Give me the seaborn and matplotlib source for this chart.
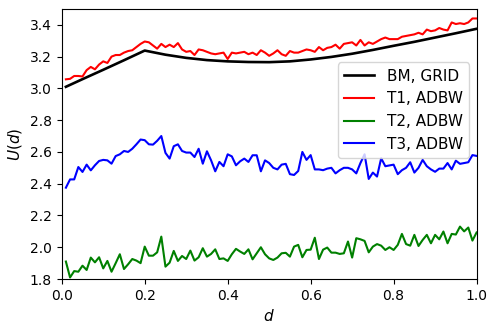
import numpy as np
import pandas as pd
import matplotlib
matplotlib.use("Agg")
import matplotlib.pyplot as plt
import seaborn as sns

# ---------------- data ----------------
d_bm = [0.01, 0.05, 0.10, 0.15, 0.20, 0.25, 0.30, 0.35, 0.40, 0.45, 0.50,
        0.55, 0.60, 0.65, 0.70, 0.75, 0.80, 0.85, 0.90, 0.95, 1.00]
u_bm = [3.010, 3.058, 3.117, 3.177, 3.238, 3.212, 3.192, 3.178, 3.170, 3.166, 3.165,
        3.170, 3.182, 3.198, 3.218, 3.242, 3.268, 3.293, 3.320, 3.347, 3.375]

d_t = [round(0.01 * i, 2) for i in range(1, 101)]

u_t1 = [3.057, 3.060, 3.078, 3.078, 3.075, 3.115, 3.135, 3.120, 3.150, 3.170,
        3.160, 3.200, 3.210, 3.210, 3.225, 3.235, 3.240, 3.260, 3.280, 3.295,
        3.290, 3.270, 3.250, 3.280, 3.260, 3.275, 3.260, 3.285, 3.245, 3.230,
        3.235, 3.210, 3.245, 3.240, 3.230, 3.220, 3.215, 3.220, 3.225, 3.185,
        3.225, 3.220, 3.225, 3.230, 3.215, 3.225, 3.210, 3.240, 3.225, 3.205,
        3.220, 3.240, 3.215, 3.205, 3.235, 3.225, 3.225, 3.235, 3.245, 3.240,
        3.230, 3.260, 3.240, 3.255, 3.260, 3.275, 3.250, 3.280, 3.285, 3.290,
        3.270, 3.305, 3.270, 3.290, 3.280, 3.295, 3.310, 3.320, 3.310, 3.310,
        3.310, 3.325, 3.330, 3.335, 3.340, 3.350, 3.340, 3.370, 3.360, 3.365,
        3.380, 3.370, 3.365, 3.415, 3.405, 3.410, 3.405, 3.415, 3.440, 3.440]

u_t2 = [1.910, 1.810, 1.850, 1.846, 1.884, 1.857, 1.935, 1.905, 1.937, 1.867,
        1.914, 1.846, 1.900, 1.956, 1.863, 1.893, 1.926, 1.916, 1.900, 2.004,
        1.947, 1.947, 1.968, 2.067, 1.878, 1.903, 1.977, 1.914, 1.945, 1.926,
        1.979, 1.916, 1.937, 1.994, 1.941, 1.958, 1.987, 1.926, 1.930, 1.914,
        1.956, 1.990, 1.973, 1.958, 1.987, 1.924, 1.962, 2.000, 1.956, 1.930,
        1.920, 1.935, 1.962, 1.965, 1.941, 2.004, 2.015, 1.937, 1.983, 1.985,
        2.060, 1.926, 1.985, 1.998, 1.966, 1.966, 1.958, 1.962, 2.036, 1.935,
        2.057, 2.050, 2.040, 1.968, 2.004, 2.020, 2.010, 1.983, 2.000, 1.983,
        2.015, 2.084, 2.020, 2.010, 2.078, 2.008, 2.046, 2.078, 2.025, 2.078,
        2.050, 2.099, 2.025, 2.084, 2.080, 2.130, 2.100, 2.124, 2.042, 2.093]

u_t3 = [2.375, 2.427, 2.427, 2.505, 2.474, 2.520, 2.484, 2.516, 2.543, 2.550,
        2.547, 2.526, 2.574, 2.585, 2.606, 2.600, 2.620, 2.648, 2.678, 2.674,
        2.648, 2.646, 2.670, 2.700, 2.594, 2.558, 2.636, 2.648, 2.606, 2.596,
        2.596, 2.568, 2.620, 2.526, 2.604, 2.547, 2.478, 2.537, 2.510, 2.585,
        2.572, 2.516, 2.541, 2.558, 2.537, 2.579, 2.579, 2.478, 2.547, 2.530,
        2.500, 2.490, 2.520, 2.525, 2.460, 2.455, 2.480, 2.600, 2.550, 2.580,
        2.490, 2.490, 2.485, 2.495, 2.500, 2.465, 2.485, 2.500, 2.500, 2.490,
        2.465, 2.530, 2.585, 2.430, 2.470, 2.445, 2.560, 2.510, 2.515, 2.520,
        2.460, 2.485, 2.500, 2.535, 2.470, 2.500, 2.550, 2.510, 2.490, 2.475,
        2.495, 2.495, 2.530, 2.490, 2.545, 2.525, 2.530, 2.535, 2.580, 2.575]

labels = ["BM, GRID", "T1, ADBW", "T2, ADBW", "T3, ADBW"]
colors = ["black", "red", "green", "blue"]

frames = [pd.DataFrame({"d": d_bm, "U": u_bm, "series": labels[0]})]
for lab, vals in zip(labels[1:], [u_t1, u_t2, u_t3]):
    frames.append(pd.DataFrame({"d": d_t, "U": vals, "series": lab}))
df = pd.concat(frames, ignore_index=True)

# ---------------- plot ----------------
fig, ax = plt.subplots(figsize=(4.98, 3.31), dpi=100)
fig.subplots_adjust(left=0.124, right=0.957, top=0.973, bottom=0.157)

sns.lineplot(data=df, x="d", y="U", hue="series", hue_order=labels,
             palette=dict(zip(labels, colors)), estimator=None, sort=True,
             linewidth=1.5, ax=ax)
for line in ax.lines:
    if line.get_color() in ("black", "k"):
        line.set_linewidth(1.9)

ax.set_xlim(0, 1.0)
ax.set_ylim(1.8, 3.5)
ax.set_xticks([0.0, 0.2, 0.4, 0.6, 0.8, 1.0])
ax.set_yticks([1.8, 2.0, 2.2, 2.4, 2.6, 2.8, 3.0, 3.2, 3.4])
ax.set_xlabel("$d$", fontsize=11)
ax.set_ylabel("$U(d)$", fontsize=11)
ax.tick_params(labelsize=10)
ax.legend(loc="upper right", bbox_to_anchor=(1.0, 0.83), fontsize=11)

fig.savefig("out.png", dpi=100)
